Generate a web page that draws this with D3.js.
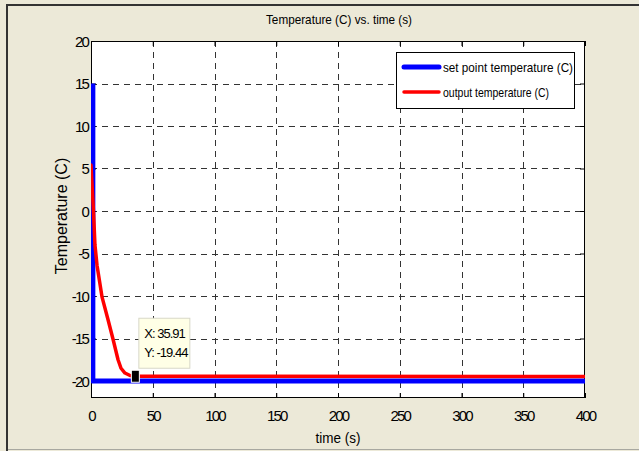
<!DOCTYPE html>
<html><head><meta charset="utf-8">
<script src="https://cdn.jsdelivr.net/npm/d3@7"></script>
<style>html,body{margin:0;padding:0;background:#ECE9D8;}svg{display:block;}</style>
</head><body>
<script>
// ---- data ----
const xTicks = [0, 50, 100, 150, 200, 250, 300, 350, 400];
const yTicks = [-20, -15, -10, -5, 0, 5, 10, 15, 20];
const setTime = [1.5, 1.5, 400];
const setTemp = [15, -20, -20];
const outTime = [0, 2, 3.2, 4.9, 8.9, 13.8, 17.8, 21.9, 24.3, 27.5, 31.6, 35.91, 400];
const outTemp = [5.4, 0, -4, -6.4, -10.1, -12.8, -15.06, -17.5, -18.5, -19.06, -19.35, -19.44, -19.47];
const seriesNames = ["set point temperature (C)", "output temperature (C)"];
const tip = {t: 35.91, v: -19.44, labels: ["X: 35.91", "Y: -19.44"]};

const W = 639, H = 451;
const m = {l: 91, r: 585, t: 41, b: 398};
const svg = d3.select("body").append("svg").attr("width", W).attr("height", H);

// frame
svg.append("rect").attr("width", W).attr("height", H).attr("fill", "#ECE9D8");
svg.append("line").attr("x1", 6).attr("x2", W).attr("y1", 5).attr("y2", 5).attr("stroke", "#333").attr("stroke-width", 2);
svg.append("line").attr("x1", 7).attr("x2", 7).attr("y1", 4).attr("y2", H).attr("stroke", "#333").attr("stroke-width", 2);
svg.append("line").attr("x1", 8).attr("x2", W).attr("y1", 449.5).attr("y2", 449.5).attr("stroke", "#a8a8a0").attr("stroke-width", 1);

const x = d3.scaleLinear().domain([0, 400]).range([m.l, m.r]);
const y = d3.scaleLinear().domain([-22, 20]).range([m.b, m.t]);

// plot background
svg.append("rect").attr("x", m.l).attr("y", m.t).attr("width", m.r - m.l).attr("height", m.b - m.t).attr("fill", "#fff");

// grid
const grid = svg.append("g").attr("stroke", "#333").attr("stroke-width", 1).attr("stroke-dasharray", "6,5");
xTicks.slice(1, -1).forEach(t => grid.append("line").attr("x1", Math.round(x(t)) + 0.5).attr("x2", Math.round(x(t)) + 0.5).attr("y1", m.t).attr("y2", m.b));
yTicks.slice(0, -1).forEach(t => grid.append("line").attr("y1", Math.round(y(t)) + 0.5).attr("y2", Math.round(y(t)) + 0.5).attr("x1", m.l).attr("x2", m.r));

// axes
const tickFont = "'Liberation Sans', Arial, sans-serif";
const fmt = d => String(d);
const gx = svg.append("g").attr("transform", `translate(0,${m.b})`)
  .call(d3.axisBottom(x).tickValues(xTicks).tickSize(-5).tickPadding(12).tickFormat(fmt));
const gxt = svg.append("g").attr("transform", `translate(0,${m.t})`)
  .call(d3.axisTop(x).tickValues(xTicks).tickSize(-5).tickFormat(""));
const gy = svg.append("g").attr("transform", `translate(${m.l},0)`)
  .call(d3.axisLeft(y).tickValues(yTicks).tickSize(-5).tickPadding(3).tickFormat(fmt));
const gyr = svg.append("g").attr("transform", `translate(${m.r},0)`)
  .call(d3.axisRight(y).tickValues(yTicks).tickSize(-5).tickFormat(""));
[gx, gxt, gy, gyr].forEach(g => {
  g.select(".domain").remove();
  g.selectAll(".tick line").attr("stroke", "#000");
  g.selectAll("text").attr("font-family", tickFont).attr("font-size", 15).attr("letter-spacing", "-1.8px").attr("fill", "#000");
});
gy.selectAll("text").attr("dy", "0.36em");
svg.append("rect").attr("x", m.l + 0.5).attr("y", m.t + 0.5).attr("width", m.r - m.l - 1).attr("height", m.b - m.t - 1)
  .attr("fill", "none").attr("stroke", "#000");

// clip
svg.append("clipPath").attr("id", "clip").append("rect").attr("x", m.l).attr("y", m.t).attr("width", m.r - m.l).attr("height", m.b - m.t);

const line = d3.line().x(d => x(d[0])).y(d => y(d[1]));
const plot = svg.append("g").attr("clip-path", "url(#clip)");
plot.append("path").datum(setTime.map((t, i) => [t, setTemp[i]])).attr("d", line)
  .attr("fill", "none").attr("stroke", "#0000FF").attr("stroke-width", 5).attr("stroke-linejoin", "round");
plot.append("path").datum(outTime.map((t, i) => [t, outTemp[i]])).attr("d", line)
  .attr("fill", "none").attr("stroke", "#FF0000").attr("stroke-width", 3.5).attr("stroke-linejoin", "round").attr("stroke-linecap", "round");

// data tip
const tx = x(tip.t), ty = y(tip.v);
svg.append("rect").attr("x", tx + 3.5).attr("y", ty - 58).attr("width", 51).attr("height", 50)
  .attr("fill", "#FFFFE6").attr("stroke", "#d8d8c8").attr("stroke-width", 1);
tip.labels.forEach((s, i) => svg.append("text").attr("x", tx + 9).attr("y", ty - 38 + i * 19)
  .attr("font-family", tickFont).attr("font-size", 13).attr("letter-spacing", "-1px").text(s));
svg.append("rect").attr("x", tx - 4).attr("y", ty - 6).attr("width", 8).attr("height", 12)
  .attr("fill", "#000").attr("stroke", "#fff").attr("stroke-width", 1);

// legend
const lg = svg.append("g");
lg.append("rect").attr("x", 396.5).attr("y", 52.5).attr("width", 178).attr("height", 56).attr("fill", "#fff").attr("stroke", "#000");
const lc = ["#0000FF", "#FF0000"], lw = [5, 3.5];
seriesNames.forEach((s, i) => {
  const yy = 67 + i * 25;
  lg.append("line").attr("x1", 404).attr("x2", 439).attr("y1", yy).attr("y2", yy).attr("stroke", lc[i]).attr("stroke-width", lw[i]).attr("stroke-linecap", "round");
  lg.append("text").attr("x", 443).attr("y", yy + 5).attr("font-family", tickFont).attr("font-size", 13)
    .attr("textLength", i === 0 ? 130 : 106).attr("lengthAdjust", "spacingAndGlyphs").text(s);
});

// titles
svg.append("text").attr("x", 339).attr("y", 24).attr("text-anchor", "middle").attr("font-family", tickFont).attr("font-size", 13)
  .attr("textLength", 146).attr("lengthAdjust", "spacingAndGlyphs").text("Temperature (C) vs. time (s)");
svg.append("text").attr("x", 338).attr("y", 443).attr("text-anchor", "middle").attr("font-family", tickFont).attr("font-size", 14)
  .attr("textLength", 45).attr("lengthAdjust", "spacingAndGlyphs").text("time (s)");
svg.append("text").attr("transform", "translate(67,216) rotate(-90)").attr("text-anchor", "middle").attr("font-family", tickFont)
  .attr("font-size", 16).text("Temperature (C)");
</script>
</body></html>
